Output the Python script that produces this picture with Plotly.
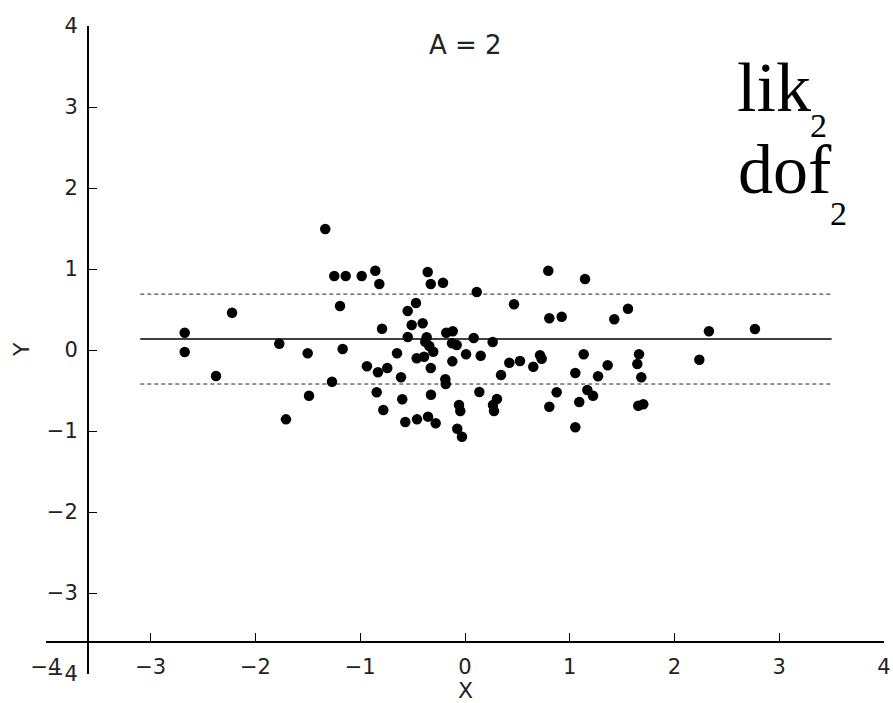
import plotly.graph_objects as go

# Scatter data
x_vals = [-1.334, -1.248, -1.139, -0.986, -1.193, -2.224, -2.676, -2.676, -1.773, -1.502,
          -1.168, -2.377, -1.270, -1.489, -1.709,
          -0.856, -0.818, -0.356, -0.327, -0.210, 0.112, -0.468, -0.547, -0.792, -0.509,
          -0.404, -0.547, -0.366, -0.379, -0.341, -0.303, -0.179, -0.117, -0.124, -0.079,
          0.083, 0.264, -0.649, -0.461, -0.391, 0.010, 0.150, -0.121, -0.936, -0.831,
          -0.742, -0.327, -0.611, -0.188, -0.184, 0.344, -0.843, -0.325, 0.137, -0.599,
          -0.780, -0.057, -0.045, -0.570, -0.458, -0.353, -0.280, -0.074, -0.029,
          0.795, 1.146, 0.468, 0.805, 0.923, 1.425, 1.556, 0.423, 0.525, 0.652,
          0.716, 0.732, 1.133, 1.362, 1.053, 1.270, 0.875, 1.168, 1.222, 0.805,
          1.091, 1.053, 0.305, 0.267, 0.277,
          2.329, 2.768, 1.661, 1.645, 2.237, 1.683, 1.654, 1.702]
y_vals = [1.494, 0.914, 0.914, 0.914, 0.543, 0.460, 0.214, -0.025, 0.078, -0.041,
          0.012, -0.321, -0.391, -0.564, -0.856,
          0.979, 0.815, 0.963, 0.815, 0.831, 0.716, 0.580, 0.481, 0.263, 0.309,
          0.330, 0.160, 0.157, 0.102, 0.049, -0.021, 0.214, 0.231, 0.083, 0.062,
          0.148, 0.099, -0.041, -0.102, -0.083, -0.053, -0.070, -0.140, -0.201, -0.275,
          -0.222, -0.222, -0.337, -0.362, -0.420, -0.309, -0.522, -0.552, -0.519, -0.609,
          -0.741, -0.679, -0.753, -0.889, -0.856, -0.823, -0.905, -0.972, -1.070,
          0.979, 0.877, 0.564, 0.391, 0.411, 0.379, 0.510, -0.157, -0.136, -0.206,
          -0.065, -0.107, -0.053, -0.189, -0.284, -0.325, -0.522, -0.494, -0.564, -0.700,
          -0.642, -0.954, -0.605, -0.679, -0.753,
          0.231, 0.259, -0.053, -0.173, -0.120, -0.337, -0.688, -0.670]

# Reference lines
line_x = [-3.1, 3.5]
mean_y = 0.136
upper_y = 0.69
lower_y = -0.42

tick_vals = [-4, -3, -2, -1, 0, 1, 2, 3, 4]
tick_text = ["\u22124", "\u22123", "\u22122", "\u22121", "0", "1", "2", "3", "4"]

title_text = "A = 2"
x_label = "X"
y_label = "Y"

FONT = "DejaVu Sans"

fig = go.Figure()
fig.add_trace(go.Scatter(x=line_x, y=[mean_y, mean_y], mode="lines",
                         line=dict(color="black", width=1.3), showlegend=False, hoverinfo="skip"))
fig.add_trace(go.Scatter(x=line_x, y=[upper_y, upper_y], mode="lines",
                         line=dict(color="#222222", width=1, dash="4px,3px"), showlegend=False, hoverinfo="skip"))
fig.add_trace(go.Scatter(x=line_x, y=[lower_y, lower_y], mode="lines",
                         line=dict(color="#222222", width=1, dash="4px,3px"), showlegend=False, hoverinfo="skip"))
fig.add_trace(go.Scatter(x=x_vals, y=y_vals, mode="markers",
                         marker=dict(color="black", size=10.5, line=dict(width=0)), showlegend=False))

axis_common = dict(
    range=[-4, 4], tickvals=tick_vals, ticktext=tick_text,
    showgrid=False, zeroline=False, showline=True, linecolor="black", linewidth=1.8,
    ticks="inside", ticklen=8, tickwidth=1.2, tickcolor="black",
    tickfont=dict(family=FONT, size=21, color="#222222"),
    anchor="free", position=0.05, automargin=False,
)
fig.update_xaxes(**axis_common, ticklabelstandoff=6)
fig.update_yaxes(**axis_common, ticklabelstandoff=5)

H0 = 674.0
PH = 648.0
def py(p):
    return (H0 - p) / PH

annotations = [
    dict(text=title_text, x=0.5, y=py(45), xref="paper", yref="paper", showarrow=False,
         font=dict(family=FONT, size=26, color="#222222"), xanchor="center", yanchor="middle"),
    dict(text=x_label, x=0.5, y=py(690), xref="paper", yref="paper", showarrow=False,
         font=dict(family=FONT, size=22, color="#222222"), xanchor="center", yanchor="middle"),
    dict(text=y_label, x=(21 - 46) / 838.0, y=py(350), xref="paper", yref="paper", showarrow=False,
         textangle=-90, font=dict(family=FONT, size=22, color="#222222"), xanchor="center", yanchor="middle"),
    dict(text="lik", x=(735 - 46) / 838.0, y=py(88), xref="paper", yref="paper", showarrow=False,
         font=dict(family="Liberation Serif", size=70, color="black"), xanchor="left", yanchor="middle"),
    dict(text="2", x=(808 - 46) / 838.0, y=py(125), xref="paper", yref="paper", showarrow=False,
         font=dict(family="Liberation Serif", size=34, color="black"), xanchor="left", yanchor="middle"),
    dict(text="dof", x=(736 - 46) / 838.0, y=py(169), xref="paper", yref="paper", showarrow=False,
         font=dict(family="Liberation Serif", size=70, color="black"), xanchor="left", yanchor="middle"),
    dict(text="2", x=(828 - 46) / 838.0, y=py(214), xref="paper", yref="paper", showarrow=False,
         font=dict(family="Liberation Serif", size=34, color="black"), xanchor="left", yanchor="middle"),
]

fig.update_layout(
    width=893, height=703,
    margin=dict(l=46, r=9, t=26, b=29),
    plot_bgcolor="white", paper_bgcolor="white",
    annotations=annotations,
    showlegend=False,
)

fig.write_html("out.html", config={"displayModeBar": False},
               post_script="document.body.style.margin='0px';")
